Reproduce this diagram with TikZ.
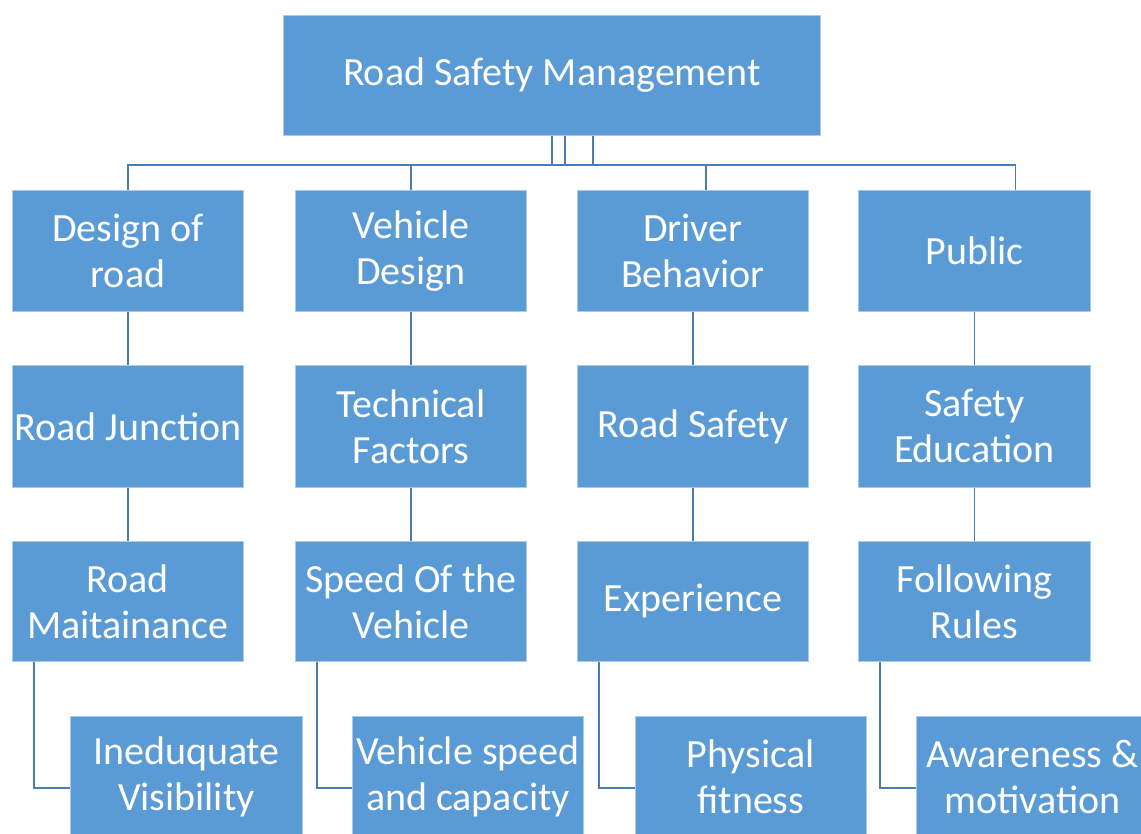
\documentclass[tikz,border=0pt]{standalone}
\usepackage{fontspec}
\setmainfont{Carlito}
\begin{document}
\begin{tikzpicture}[x=1pt,y=-1pt,
  box/.style={draw=edgeblue, line width=0.8pt, fill=boxblue, text=white,
    inner sep=0pt, align=center, anchor=north west,
    font=\fontsize{40}{46}\selectfont},
  cbox/.style={box, minimum width=231pt, minimum height=121pt},
  link/.style={draw=lineblue, line width=1.6pt}]
\definecolor{boxblue}{HTML}{5B9BD5}
\definecolor{edgeblue}{HTML}{A9CBEA}
\definecolor{lineblue}{HTML}{4A7EB0}
\useasboundingbox (0,0) rectangle (1141,833);
\begin{scope}
\clip (0,0) rectangle (1141,833);
% root
\node[box, minimum width=537pt, minimum height=120pt] (root) at (283,15) {Road Safety Management};
% first row
\node[cbox] (a1) at (12,190) {Design of\\road};
\node[cbox] (b1) at (295,190) {Vehicle\\Design};
\node[cbox] (c1) at (577,190) {Driver\\Behavior};
\node[cbox, minimum width=232pt] (d1) at (858,190) {Public};
% second row
\node[cbox, minimum height=122pt] (a2) at (12,365) {Road Junction};
\node[cbox, minimum height=122pt] (b2) at (295,365) {Technical\\Factors};
\node[cbox, minimum height=122pt] (c2) at (577,365) {Road Safety};
\node[cbox, minimum width=232pt, minimum height=122pt] (d2) at (858,365) {Safety\\Education};
% third row
\node[cbox, minimum height=120pt] (a3) at (12,541) {Road\\Maitainance};
\node[cbox, minimum height=120pt] (b3) at (295,541) {Speed Of the\\Vehicle};
\node[cbox, minimum height=120pt] (c3) at (577,541) {Experience};
\node[cbox, minimum width=232pt, minimum height=120pt] (d3) at (858,541) {Following\\Rules};
% fourth row (runs past the lower edge)
\node[cbox, minimum width=232pt] (a4) at (70,716) {Ineduquate\\Visibility};
\node[cbox] (b4) at (352,716) {Vehicle speed\\and capacity};
\node[cbox] (c4) at (635,716) {Physical\\fitness};
\node[cbox, minimum width=232pt] (d4) at (916,716) {Awareness \&\\motivation};
\end{scope}
% root to first row
\draw[link] (root.south) -- ++(0,29) -| (a1.north);
\draw[link] ([xshift=13pt]root.south) -- ++(0,29) -| (b1.north);
\draw[link] ([xshift=13pt]root.south) -- ++(0,29) -| ([xshift=13pt]c1.north);
\draw[link] ([xshift=41pt]root.south) -- ++(0,29) -| ([xshift=41pt]d1.north);
% vertical links
\foreach \c in {a,b,c,d}{
  \draw[link] (\c1.south) -- (\c2.north);
  \draw[link] (\c2.south) -- (\c3.north);
}
% elbow links to the fourth row
\foreach \c in {a,b,c,d}{
  \draw[link] ([xshift=22pt]\c3.south west) |- ([yshift=-11pt]\c4.west);
}
\end{tikzpicture}
\end{document}
